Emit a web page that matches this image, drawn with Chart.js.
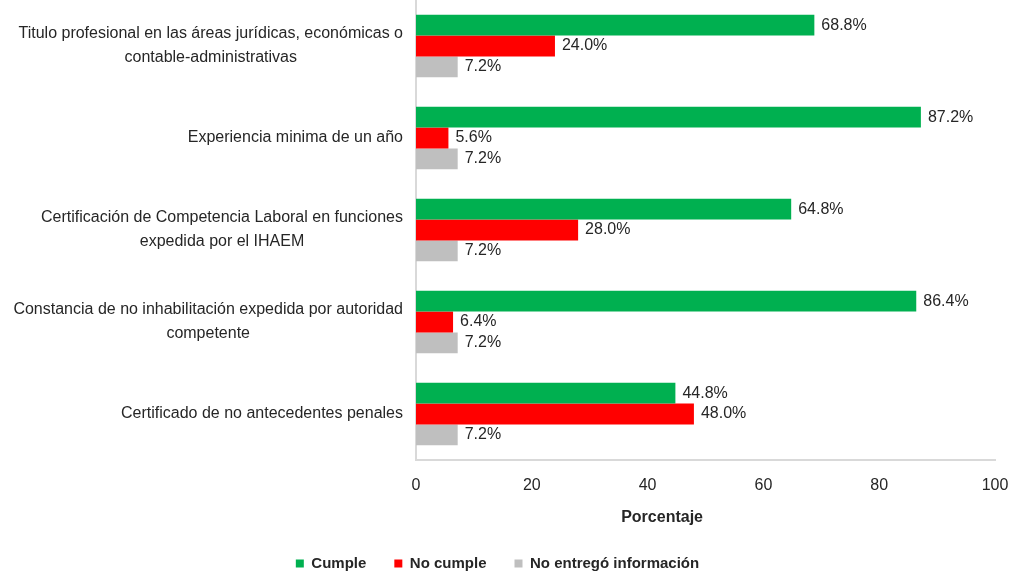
<!DOCTYPE html>
<html>
<head>
<meta charset="utf-8">
<script src="https://cdn.jsdelivr.net/npm/chart.js@4"></script>
<style>
  html, body { margin: 0; padding: 0; background: #fff; }
  #wrap { width: 1012px; height: 576px; }
</style>
</head>
<body>
<div id="wrap"><canvas id="requisitos"></canvas></div>
<script>
const categories = [
  ['Titulo profesional en las áreas jurídicas, económicas o', 'contable-administrativas'],
  ['Experiencia minima de un año'],
  ['Certificación de Competencia Laboral en funciones', 'expedida por el IHAEM'],
  ['Constancia de no inhabilitación expedida por autoridad', 'competente'],
  ['Certificado de no antecedentes penales']
];
const cumple = [68.8, 87.2, 64.8, 86.4, 44.8];
const noCumple = [24.0, 5.6, 28.0, 6.4, 48.0];
const noEntrego = [7.2, 7.2, 7.2, 7.2, 7.2];
const xTicks = [0, 20, 40, 60, 80, 100];

const FONT = '"Liberation Sans", Arial, sans-serif';
const TEXT = '#262626';

// category labels (centered lines, block right-aligned to the axis),
// value labels next to each bar, and the axis title
const extras = {
  id: 'extras',
  afterDraw(chart) {
    const ctx = chart.ctx;
    const y = chart.scales.y;
    const x = chart.scales.x;
    ctx.save();
    ctx.fillStyle = TEXT;
    ctx.font = '16px ' + FONT;
    ctx.textBaseline = 'middle';
    ctx.textAlign = 'center';
    categories.forEach((lines, i) => {
      const cy = y.getPixelForTick(i);
      const w = Math.max(...lines.map(l => ctx.measureText(l).width));
      const cx = y.right - 13 - w / 2;
      const lh = 24;
      lines.forEach((l, j) => {
        ctx.fillText(l, cx, cy + (j - (lines.length - 1) / 2) * lh);
      });
    });
    ctx.textAlign = 'left';
    chart.data.datasets.forEach((ds, di) => {
      chart.getDatasetMeta(di).data.forEach((bar, i) => {
        ctx.fillText(ds.data[i].toFixed(1) + '%', bar.x + 7, bar.y);
      });
    });
    ctx.font = 'bold 16px ' + FONT;
    ctx.textAlign = 'center';
    ctx.fillText('Porcentaje', x.left + x.width * 0.425, x.top + 58);
    ctx.restore();
  }
};

new Chart(document.getElementById('requisitos'), {
  type: 'bar',
  data: {
    labels: categories,
    datasets: [
      { label: 'Cumple', data: cumple, backgroundColor: '#00b050' },
      { label: 'No cumple', data: noCumple, backgroundColor: '#ff0000' },
      { label: 'No entregó información', data: noEntrego, backgroundColor: '#bfbfbf' }
    ]
  },
  options: {
    indexAxis: 'y',
    responsive: true,
    maintainAspectRatio: false,
    animation: false,
    layout: { padding: { top: 0, right: 17, bottom: -5, left: 0 } },
    datasets: { bar: { categoryPercentage: 0.68, barPercentage: 1.0 } },
    scales: {
      x: {
        min: 0,
        max: 100,
        afterBuildTicks: s => { s.ticks = xTicks.map(v => ({ value: v })); },
        afterFit: s => { s.height = 68; s.paddingRight = 0; s.paddingLeft = 0; },
        grid: { display: false, drawTicks: false },
        border: { display: true, color: '#d9d9d9', width: 2 },
        ticks: { color: TEXT, font: { family: FONT, size: 16 }, padding: 16 }
      },
      y: {
        afterFit: s => { s.width = 416; },
        grid: { display: false, drawTicks: false },
        border: { display: true, color: '#d9d9d9', width: 2 },
        ticks: { display: false }
      }
    },
    plugins: {
      legend: {
        position: 'bottom',
        labels: {
          boxWidth: 8,
          boxHeight: 8,
          padding: 28,
          color: TEXT,
          font: { family: FONT, size: 15, weight: 'bold' }
        }
      },
      tooltip: { enabled: false }
    }
  },
  plugins: [extras]
});
</script>
</body>
</html>
